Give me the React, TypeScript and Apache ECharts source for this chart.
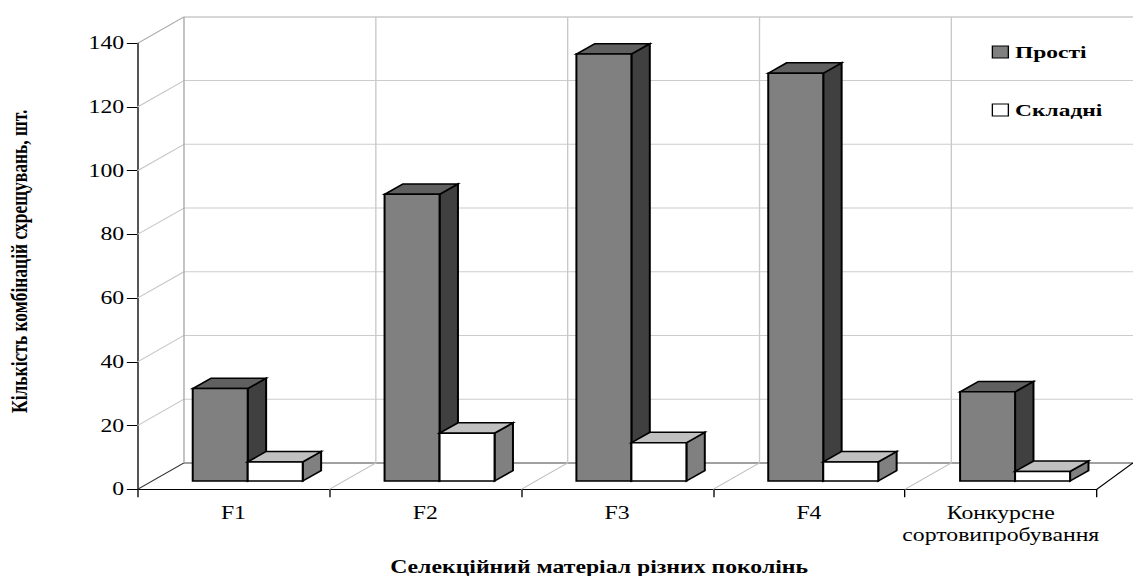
import React, { useEffect, useRef } from "react";
import * as echarts from "echarts";

const categories = ["F1", "F2", "F3", "F4", "Конкурсне\nсортовипробування"];
const simpleValues = [29, 90, 134, 128, 28];
const complexValues = [6, 15, 12, 6, 3];
const yTicks = [0, 20, 40, 60, 80, 100, 120, 140];
const boundaries = [0, 1, 2, 3, 4, 5];
const simpleName = "Прості";
const complexName = "Складні";
const xTitle = "Селекційний матеріал різних поколінь";
const yTitle = "Кількість комбінацій схрещувань, шт.";

// The reference is a picture stretched horizontally: the chart is drawn narrower and widened as a whole.
const K = 4 / 3;
const WIDTH = 1133 / K;
const HEIGHT = 576;
const FONT = "Liberation Serif";
const WALL_DX = 46.5 / K;
const WALL_DY = 26.4;
const BAR_DX = 18.4 / K;
const BAR_DY = 10.4;
const BAR_SHIFT_X = 14.3 / K;
const BAR_SHIFT_Y = 8.3;

const line = (x1: number, y1: number, x2: number, y2: number, stroke: string, lineWidth = 1) => ({
  type: "line",
  shape: { x1, y1, x2, y2 },
  style: { stroke, lineWidth, fill: "none" },
});

const poly = (points: number[][], fill: string) => ({
  type: "polygon",
  shape: { points },
  style: { fill, stroke: "#000", lineWidth: 1.5, lineJoin: "miter" },
});

const renderBar = (side: 0 | 1, front: string, top: string, right: string) => (_p: any, api: any) => {
  const idx = api.value(0);
  const base = api.coord([idx, 0]);
  const head = api.coord([idx, api.value(1)]);
  const w = api.size([1, 0])[0] * 0.2867;
  const cx = base[0] + BAR_SHIFT_X;
  const x0 = side === 0 ? cx - w : cx;
  const x1 = x0 + w;
  const y0 = base[1] - BAR_SHIFT_Y;
  const y1 = head[1] - BAR_SHIFT_Y;
  return {
    type: "group",
    children: [
      poly([[x1, y0], [x1 + BAR_DX, y0 - BAR_DY], [x1 + BAR_DX, y1 - BAR_DY], [x1, y1]], right),
      poly([[x0, y1], [x0 + BAR_DX, y1 - BAR_DY], [x1 + BAR_DX, y1 - BAR_DY], [x1, y1]], top),
      poly([[x0, y0], [x1, y0], [x1, y1], [x0, y1]], front),
    ],
  };
};

const renderLevel = (p: any, api: any) => {
  const v = api.value(1);
  const pt = api.coord([0, v]);
  const x0 = p.coordSys.x;
  const isTop = v === yTicks[yTicks.length - 1];
  const isFloor = v === 0;
  const children: any[] = [];
  if (!isFloor) {
    children.push(line(x0, pt[1], x0 + WALL_DX, pt[1] - WALL_DY, isTop ? "#a8a8a8" : "#c8c8c8"));
  }
  children.push(
    line(x0 + WALL_DX, pt[1] - WALL_DY, WIDTH + 10, pt[1] - WALL_DY, isFloor ? "#808080" : isTop ? "#b0b0b0" : "#cccccc", isFloor ? 1.5 : 1)
  );
  return { type: "group", children };
};

const renderBoundary = (p: any, _api: any) => {
  const { x, y, width, height } = p.coordSys;
  const i = p.dataIndex;
  const bx = x + (i * width) / categories.length;
  const bottom = y + height;
  const last = i === categories.length;
  const first = i === 0;
  const children: any[] = [];
  children.push(
    last
      ? line(bx, bottom, bx + (36.3 / K), bottom - WALL_DY, "#000")
      : line(bx, bottom, bx + WALL_DX, bottom - WALL_DY, first ? "#303030" : "#c0c0c0")
  );
  if (!last) {
    children.push(line(bx + WALL_DX, y - WALL_DY, bx + WALL_DX, bottom - WALL_DY, first ? "#a6a6a6" : "#c8c8c8"));
  }
  return { type: "group", children };
};

export default function App() {
  const ref = useRef<HTMLDivElement>(null);
  useEffect(() => {
    const chart = echarts.init(ref.current!, undefined, { renderer: "svg" });
    chart.setOption({
      animation: false,
      backgroundColor: "#fff",
      textStyle: { fontFamily: FONT },
      grid: { left: 137.5 / K, width: 959.2 / K, top: 43.3, height: 446, outerBoundsMode: "none" },
      legend: {
        orient: "vertical",
        left: 991.7 / K,
        top: 43,
        padding: 0,
        itemWidth: 12,
        itemHeight: 12,
        itemGap: 40,
        selectedMode: false,
        data: [
          { name: simpleName, icon: "rect", itemStyle: { color: "#808080", borderColor: "#000", borderWidth: 1 } },
          { name: complexName, icon: "rect", itemStyle: { color: "#fff", borderColor: "#000", borderWidth: 1 } },
        ],
        textStyle: { fontFamily: FONT, fontWeight: "bold", fontSize: 17.6, color: "#000" },
      },
      xAxis: {
        type: "category",
        data: categories,
        boundaryGap: true,
        axisLine: { lineStyle: { color: "#000", width: 1 } },
        axisTick: { show: true, length: 8, alignWithLabel: false, lineStyle: { color: "#000" } },
        axisLabel: { fontFamily: FONT, fontSize: 17.8, color: "#000", margin: 13, lineHeight: 22, interval: 0 },
        name: xTitle,
        nameLocation: "middle",
        nameGap: 69,
        nameTextStyle: { fontFamily: FONT, fontWeight: "bold", fontSize: 17.8, color: "#000", padding: [0, 27, 0, 0] },
      },
      yAxis: {
        type: "value",
        min: 0,
        max: 140,
        interval: 20,
        splitLine: { show: false },
        axisLine: { show: true, lineStyle: { color: "#000", width: 1 } },
        axisTick: { show: true, length: 8, lineStyle: { color: "#000" } },
        axisLabel: { fontFamily: FONT, fontSize: 17.8, color: "#000", margin: 10 },
        name: yTitle,
        nameLocation: "middle",
        nameRotate: 90,
        nameGap: 80,
        nameTextStyle: { fontFamily: FONT, fontWeight: "bold", fontSize: 17.5, color: "#000", padding: [0, 0, 0, 10] },
      },
      series: [
        { type: "custom", name: "levels", silent: true, z: 1, data: yTicks.map((v) => [0, v]), encode: { x: 0, y: 1 }, renderItem: renderLevel },
        { type: "custom", name: "boundaries", silent: true, z: 1, data: boundaries.map(() => [0, 0]), encode: { x: 0, y: 1 }, renderItem: renderBoundary },
        { type: "custom", name: simpleName, z: 2, itemStyle: { color: "#808080" }, data: simpleValues.map((v, i) => [i, v]), encode: { x: 0, y: 1 }, renderItem: renderBar(0, "#808080", "#606060", "#404040") },
        { type: "custom", name: complexName, z: 3, itemStyle: { color: "#fff" }, data: complexValues.map((v, i) => [i, v]), encode: { x: 0, y: 1 }, renderItem: renderBar(1, "#ffffff", "#c0c0c0", "#808080") },
      ],
    });
    return () => chart.dispose();
  }, []);
  return (
    <div
      ref={ref}
      style={{ position: "absolute", left: 0, top: 0, width: WIDTH, height: HEIGHT, transform: `scaleX(${K})`, transformOrigin: "0 0" }}
    />
  );
}
